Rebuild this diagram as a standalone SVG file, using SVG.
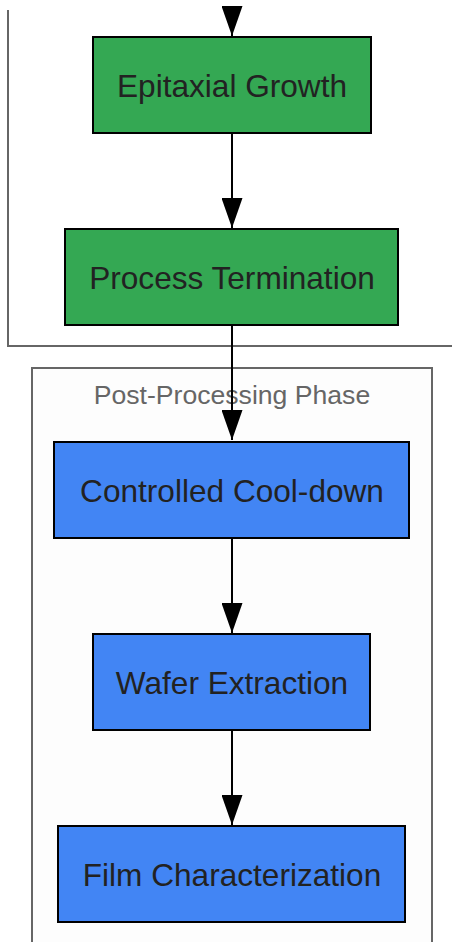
<svg xmlns="http://www.w3.org/2000/svg" width="452" height="942" viewBox="0 0 452 942">
<style>
.cl{fill:none;stroke:#666;stroke-width:2}
.nd{stroke:#000;stroke-width:2}
.g{fill:#34a853}
.b{fill:#4285f4}
.t{font-family:"Liberation Sans",Arial,sans-serif;font-size:31.6px;fill:#222;text-anchor:middle;dominant-baseline:central}
.ct{font-family:"Liberation Sans",Arial,sans-serif;font-size:26.6px;fill:#666;text-anchor:middle;dominant-baseline:central}
.e{stroke:#000;stroke-width:2;fill:none}
</style>
<defs>
<marker id="ah" viewBox="0 0 30 21" refX="30" refY="10.5" markerWidth="30" markerHeight="21" markerUnits="userSpaceOnUse" orient="auto">
<path d="M0,0 L30,10.5 L0,21 Z" fill="#000"/>
</marker>
</defs>
<g id="cluster-growth"><path class="cl" d="M8,10 V346 H452"/></g>
<g id="cluster-post">
<rect x="32" y="368" width="400" height="590" fill="#fdfdfd" stroke="#666" stroke-width="2"/>
<text class="ct" x="232" y="395">Post-Processing Phase</text>
</g>
<g id="connectors">
<path class="e" d="M232,10 V36" marker-end="url(#ah)"/>
<path class="e" d="M232,133 V228" marker-end="url(#ah)"/>
<path class="e" d="M232,325 V440" marker-end="url(#ah)"/>
<path class="e" d="M232,538 V633" marker-end="url(#ah)"/>
<path class="e" d="M232,730 V825" marker-end="url(#ah)"/>
</g>
<g id="epitaxial-growth"><rect class="nd g" x="93" y="37" width="278" height="96"/><text class="t" x="232" y="86">Epitaxial Growth</text></g>
<g id="process-termination"><rect class="nd g" x="65" y="229" width="333" height="96"/><text class="t" x="232" y="278">Process Termination</text></g>
<g id="controlled-cool-down"><rect class="nd b" x="54" y="442" width="355" height="96"/><text class="t" x="232" y="491">Controlled Cool-down</text></g>
<g id="wafer-extraction"><rect class="nd b" x="93" y="634" width="277" height="96"/><text class="t" x="232" y="683">Wafer Extraction</text></g>
<g id="film-characterization"><rect class="nd b" x="58" y="826" width="347" height="96"/><text class="t" x="232" y="875">Film Characterization</text></g>
</svg>
